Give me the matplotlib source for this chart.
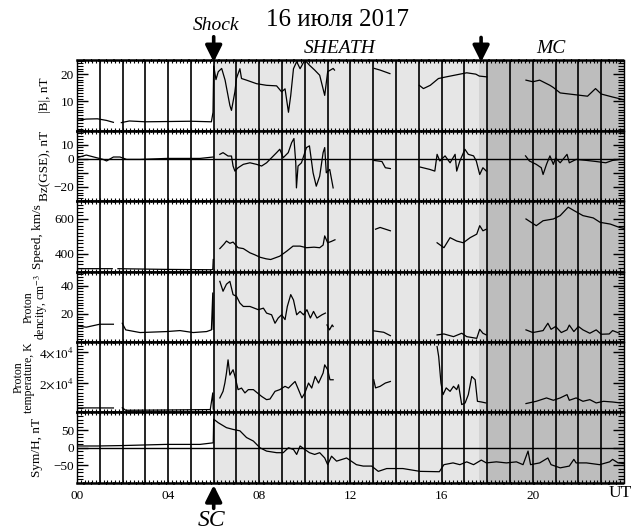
import numpy as np
import matplotlib
matplotlib.use("Agg")
import matplotlib.pyplot as plt
from matplotlib.ticker import MultipleLocator

nan = np.nan

# event timing, UT hours
SHOCK_T = 6.0
MC_ARROW_T = 17.73
EDGE_T = 17.62
MC_T = 18.0

# |B|, nT
B_T = [0.0, 0.4, 0.9, 1.3, 1.6, 1.75, 1.95, 2.3, 3.0, 4.0, 5.0, 5.9, 5.97, 6.0, 6.1, 6.2, 6.35, 6.5, 6.71,
       6.78, 6.93, 7.0, 7.15, 7.22, 7.44, 7.88, 8.32, 8.76, 8.98, 9.13, 9.28, 9.38, 9.5, 9.64, 9.79, 10.0,
       10.2, 10.43, 10.65, 10.87, 11.0, 11.24, 11.3, 12.0, 13.05, 13.3, 13.73, 14.5, 15.02, 15.2, 15.5,
       15.86, 16.2, 16.8, 17.1, 17.5, 17.65, 17.98, 19.0, 19.7, 20.0, 20.3, 20.75, 20.9, 21.2, 21.8, 22.4,
       22.75, 23.0, 23.5, 24.0]
B_V = [3.0, 3.5, 3.6, 3.0, 2.3, nan, 2.2, 2.8, 2.5, 2.6, 2.7, 2.5, 6.0, 23.0, 18.0, 20.9, 22.1, 17.8, 8.5,
       6.7, 13.5, 18.5, 22.0, 18.4, 17.8, 16.5, 15.9, 15.7, 13.5, 14.6, 6.0, 12.2, 22.0, 24.6, 22.0, 25.2,
       23.3, 21.5, 19.6, 12.2, 20.9, 22.1, 21.5, nan, 22.1, 21.5, 20.2, nan, 15.9, 14.7, 15.9,
       18.4, 19.0, 20.0, 20.5, 20.0, 19.3, 19.0, nan, 17.8, 17.2, 17.8, 15.9, 15.1, 13.1, 12.5, 11.9,
       14.7, 12.7, 11.6, 10.6]

# Bz (GSE), nT
BZ_T = [0.0, 0.41, 0.86, 1.15, 1.3, 1.6, 1.89, 2.18, 2.77, 3.94, 5.4, 5.98, 6.1, 6.27, 6.41, 6.63, 6.78,
        6.85, 6.93, 7.07, 7.3, 7.59, 7.88, 8.1, 8.32, 8.54, 8.76, 8.9, 9.05, 9.27, 9.42, 9.52, 9.6, 9.63,
        9.7, 9.85, 10.07, 10.2, 10.36, 10.5, 10.65, 10.8, 10.87, 10.94, 11.09, 11.24, 12.0, 13.02, 13.38,
        13.53, 13.75, 14.5, 15.05, 15.48, 15.7, 15.8, 15.92, 16.15, 16.37, 16.59, 16.66, 16.8, 17.02,
        17.17, 17.4, 17.52, 17.67, 17.81, 17.96, 19.0, 19.68, 19.85, 20.15, 20.37, 20.45, 20.6, 20.75,
        20.9, 21.0, 21.2, 21.5, 21.6, 21.9, 22.35, 22.78, 23.2, 23.5, 23.8]
BZ_V = [0.7, 2.6, 0.7, -0.5, -1.6, 1.2, 1.2, -0.5, -0.5, 0.2, 0.2, 1.2, nan, 3.1, 4.3, 1.9, 1.9,
        -5.2, -8.8, -6.4, -4.0, -2.9, -4.0, -5.2, -2.9, 0.7, 4.3, 6.7, 0.7, 4.3, 11.4, 14.3, -2.9, -20.7,
        -5.2, -2.9, 7.9, 9.1, -10.0, -19.5, -12.4, 4.3, 7.9, -10.0, -7.6, -20.7, nan, -1.2, -2.0,
        -6.4, -7.0, nan, -5.9, -7.6, -8.8, 3.1, -1.6, 2.0, -2.9, 3.1, -8.8, -1.6, 6.7,
        3.1, 2.0, -1.6, -11.2, -6.4, -8.8, nan, 2.0, -1.6, -4.0, -6.4, -11.2, -4.0, 2.0,
        -4.0, 0.5, -2.9, 3.1, -2.9, -0.5, -1.2, -2.0, -2.9, -1.2, -0.5]

# solar wind speed, km/s
V_T = [0.0, 1.55, 1.65, 1.8, 3.9, 5.9, 5.96, 5.98, 6.1, 6.27, 6.45, 6.56, 6.71, 6.85, 7.07, 7.3, 7.59,
       7.8, 8.03, 8.3, 8.5, 8.9, 9.2, 9.48, 9.79, 10.07, 10.4, 10.65, 10.8, 10.87, 11.0, 11.15, 11.32,
       12.0, 13.1, 13.3, 13.75, 14.5, 15.8, 16.1, 16.37, 16.66, 16.95, 17.25, 17.54, 17.67, 17.81,
       17.96, 19.0, 19.7, 20.15, 20.45, 20.9, 21.2, 21.55, 21.8, 22.2, 22.65, 22.95, 23.4, 23.8, 24.0]
V_V = [316, 316, nan, 316, 312, 310, 312, 368, nan, 430, 455, 473, 460, 467, 435, 430, 406,
       395, 381, 372, 368, 387, 415, 444, 444, 435, 438, 435, 450, 502, 463, 470, 480,
       nan, 540, 550, 531, nan, 463, 435, 492, 473, 463, 492, 512, 560, 531,
       540, nan, 598, 560, 588, 598, 617, 665, 646, 617, 604, 579, 569, 550, 545]

# proton density, cm^-3
N_T = [0.0, 0.41, 1.0, 1.6, 1.75, 1.99, 2.14, 2.77, 3.94, 4.52, 5.1, 5.69, 5.9, 5.96, 5.98, 6.1, 6.27,
       6.41, 6.56, 6.71, 6.85, 7.0, 7.15, 7.3, 7.59, 7.96, 8.18, 8.32, 8.54, 8.69, 8.83, 8.98, 9.13,
       9.23, 9.38, 9.5, 9.64, 9.79, 9.94, 10.09, 10.24, 10.38, 10.53, 10.75, 10.9, 10.93, 10.97, 11.08,
       11.2, 11.24, 12.0, 13.02, 13.46, 13.75, 14.5, 15.8, 16.1, 16.52, 16.88, 17.1, 17.54, 17.67,
       17.81, 17.96, 19.0, 19.7, 20.0, 20.45, 20.66, 20.8, 21.0, 21.25, 21.5, 21.6, 21.8, 22.0, 22.2,
       22.5, 22.78, 23.0, 23.35, 23.5, 23.8]
N_V = [11.4, 10.5, 12.6, 12.6, nan, 13.3, 8.6, 6.7, 7.4, 8.1, 6.7, 7.4, 8.6, 34.8, 9.0, nan, 43.0,
       36.0, 41.0, 43.0, 33.6, 32.4, 27.6, 25.2, 25.2, 22.9, 24.0, 20.5, 19.3, 13.3, 17.0, 19.3, 15.9,
       25.2, 33.6, 29.8, 19.3, 21.7, 19.3, 22.9, 17.0, 21.7, 17.0, 19.3, 20.5, nan, 12.1, 8.6,
       12.1, 11.0, nan, 7.9, 6.9, 4.5, nan, 5.0, 5.7, 3.8, 6.2, 3.8, 2.6, 9.0,
       6.2, 5.0, nan, 8.6, 6.7, 8.1, 13.3, 9.0, 11.0, 6.7, 8.6, 12.0, 7.4, 11.0, 8.6,
       6.2, 8.6, 5.5, 5.7, 8.1, 6.2]

# proton temperature, K
TP_T = [0.0, 1.6, 1.75, 1.99, 2.14, 4.0, 5.85, 5.96, 5.98, 6.1, 6.27, 6.41, 6.49, 6.56, 6.63, 6.71,
        6.85, 6.93, 7.07, 7.22, 7.37, 7.52, 7.74, 8.1, 8.32, 8.47, 8.69, 8.9, 9.13, 9.28, 9.42, 9.57,
        9.72, 9.87, 10.0, 10.16, 10.3, 10.45, 10.6, 10.8, 10.87, 11.0, 11.1, 11.24, 12.0, 13.02, 13.1,
        13.3, 13.53, 13.75, 14.5, 15.8, 15.87, 15.97, 16.06, 16.2, 16.37, 16.52, 16.66, 16.74, 16.88,
        17.03, 17.17, 17.32, 17.47, 17.57, 17.75, 17.94, 19.0, 19.7, 20.15, 20.6, 20.9, 21.2, 21.5,
        21.6, 21.9, 22.2, 22.5, 22.78, 23.1, 23.5, 23.85]
TP_V = [4250, 4200, nan, 4300, 2730, 2900, 3170, 13800, 3500, nan, 10600, 14800, 20100, 26500, 34900, 25200,
        28600, 24500, 15900, 16900, 13800, 15900, 15900, 11600, 9500, 9900, 14800, 15900, 18000, 16900, 19000, 21100,
        15900, 10600, 13800, 20100, 16900, 24300, 20100, 26500, 31700, 28600, 22200, 22200, nan, 22200, 17000,
        18000, 20100, 21100, nan, 43400, 37000, 20100, 12700, 17000, 14800, 18000, 15900, 19000, 6350,
        7400, 12700, 24300, 22200, 8450, 8000, 7400, nan, 7000, 8450, 10600, 9100, 10600, 12700,
        9100, 10600, 8450, 9500, 7400, 8450, 8000, 7400]

# Sym/H index, nT
SYM_T = [0.0, 0.9, 1.99, 3.9, 5.4, 5.98, 6.0, 6.2, 6.56, 6.85, 7.15, 7.44, 7.74, 8.03, 8.32, 8.76, 9.05,
         9.28, 9.5, 9.64, 9.79, 10.0, 10.2, 10.43, 10.65, 10.87, 11.0, 11.17, 11.39, 11.83, 12.26, 12.56,
         12.93, 13.22, 13.59, 14.3, 15.05, 15.9, 16.1, 16.5, 16.8, 17.1, 17.4, 17.74, 17.96, 18.4, 18.84,
         19.28, 19.57, 19.79, 19.9, 20.3, 20.66, 20.8, 21.2, 21.6, 21.8, 21.9, 22.35, 22.93, 23.37, 23.5,
         23.74, 24.0]
SYM_V = [5, 5, 6.2, 9.5, 9.5, 14, 81, 71, 57, 52, 48, 29, 19, 0, -9.5, -14, -14,
         0, -5, -19, 5, -5, -14, -19, -14, -29, -48, -24, -38, -29, -48, -52,
         -52, -67, -59, -59, -67, -68, -48, -43, -48, -40, -48, -35, -43, -40, -43,
         -40, -48, -9.5, -48, -43, -29, -48, -57, -52, -33, -43, -43, -48, -40, -33,
         -43, -45]

XTICKS = [0, 4, 8, 12, 16, 20]
XTICK_LABELS = ["00", "04", "08", "12", "16", "20"]

plt.rcParams.update(
    {
        "font.family": "serif",
        "font.serif": ["Liberation Serif", "DejaVu Serif"],
        "mathtext.fontset": "stix",
        "font.size": 9.5,
        "axes.linewidth": 1.0,
        "figure.facecolor": "white",
    }
)

AX_LEFT_PX, AX_W_PX = 77, 547


def style_panel(ax, p):
    ax.set_xlim(0, 24)
    ax.set_ylim(*p["ylim"])
    ax.axvspan(SHOCK_T, EDGE_T, color="#e6e6e6", lw=0, zorder=0)
    ax.axvspan(EDGE_T, MC_T, color="#d3d3d3", lw=0, zorder=0)
    ax.axvspan(MC_T, 24, color="#bdbdbd", lw=0, zorder=0)
    for h in range(1, 24):
        ax.axvline(h, color="k", lw=1.2, zorder=1)
    if p["zero"]:
        ax.axhline(0, color="k", lw=1.0, zorder=1)
    ax.plot(p["t"], p["v"], color="k", lw=0.9, zorder=3)

    ax.set_yticks(p["ticks"])
    ax.set_yticklabels(p["labels"])
    ax.yaxis.set_minor_locator(MultipleLocator(p["minor"]))
    ax.tick_params(axis="y", which="both", direction="in", left=True, right=True, labelsize=9.5, pad=2)
    ax.tick_params(axis="y", which="major", length=8, width=1.0)
    ax.tick_params(axis="y", which="minor", length=4, width=0.8)
    ax.set_xticks(XTICKS)
    ax.xaxis.set_minor_locator(MultipleLocator(1 / 6))
    ax.tick_params(axis="x", which="both", direction="in", top=True, bottom=True, length=2.5, width=0.8)
    ax.set_xticklabels([])
    ax.set_ylabel(p["label"], fontsize=p["lsize"], linespacing=0.8)
    ax.yaxis.set_label_coords((p["lx"] - AX_LEFT_PX) / AX_W_PX, 0.5)
    for side in ("top", "bottom"):
        ax.spines[side].set_linestyle((0, (2.2, 0.8)))
        ax.spines[side].set_linewidth(1.8)


def arrow(ax, t, y0, y1):
    ax.annotate(
        "", xy=(t, y1), xycoords=("data", "axes fraction"),
        xytext=(t, y0), textcoords=("data", "axes fraction"),
        arrowprops=dict(arrowstyle="-|>,head_width=0.45,head_length=0.9", lw=2.6, color="k",
                        shrinkA=0, shrinkB=0, mutation_scale=11),
        annotation_clip=False,
    )


def main():
    panels = [
        dict(t=B_T, v=B_V, ylim=(-0.7, 25.2), ticks=[10, 20], labels=["10", "20"], minor=1,
             zero=False, label="|B|, nT", lx=51, lsize=9.5),
        dict(t=BZ_T, v=BZ_V, ylim=(-30, 20), ticks=[10, 0, -10, -20], labels=["10", "0", "", "\u221220"],
             minor=2, zero=True, label="Bz(GSE), nT", lx=51, lsize=9.5),
        dict(t=V_T, v=V_V, ylim=(300, 700), ticks=[400, 600], labels=["400", "600"], minor=20,
             zero=False, label="Speed, km/s", lx=44, lsize=9.5),
        dict(t=N_T, v=N_V, ylim=(0, 50), ticks=[20, 40], labels=["20", "40"], minor=2,
             zero=False, label="Proton\ndencity, cm$^{-3}$", lx=50, lsize=8.5),
        dict(t=TP_T, v=TP_V, ylim=(1300, 46300), ticks=[20000, 40000],
             labels=[r"2$\times$10$^{4}$", r"4$\times$10$^{4}$"], minor=2000,
             zero=False, label="Proton\ntemperature, K", lx=35, lsize=8.5),
        dict(t=SYM_T, v=SYM_V, ylim=(-100, 100), ticks=[50, 0, -50], labels=["50", "0", "\u221250"],
             minor=10, zero=True, label="Sym/H, nT", lx=43, lsize=9.5),
    ]

    fig = plt.figure(figsize=(6.41, 5.31), dpi=100)
    gs = fig.add_gridspec(len(panels), 1, left=0.120, right=0.9735, top=0.887, bottom=0.0904, hspace=0)
    axes = [fig.add_subplot(gs[i]) for i in range(len(panels))]
    for ax, p in zip(axes, panels):
        style_panel(ax, p)

    bottom = axes[-1]
    bottom.set_xticklabels(XTICK_LABELS)
    bottom.tick_params(axis="x", labelsize=9.5, pad=5)

    arrow(axes[0], SHOCK_T, 1.33, 0.97)
    arrow(axes[0], MC_ARROW_T, 1.32, 0.97)
    arrow(bottom, SHOCK_T, -0.36, -0.03)

    fig.text(337 / 641, 1 - 20 / 531, "16 июля 2017", ha="center", va="center", fontsize=18)
    fig.text(216 / 641, 1 - 26 / 531, "Shock", ha="center", va="center", fontsize=14, style="italic")
    fig.text(340 / 641, 1 - 48 / 531, "SHEATH", ha="center", va="center", fontsize=14, style="italic")
    fig.text(551 / 641, 1 - 48 / 531, "MC", ha="center", va="center", fontsize=14, style="italic")
    fig.text(212 / 641, 1 - 520 / 531, "SC", ha="center", va="center", fontsize=17, style="italic")
    fig.text(620 / 641, 1 - 493 / 531, "UT", ha="center", va="center", fontsize=12.5)

    fig.savefig("out.png", dpi=100)


if __name__ == "__main__":
    main()
